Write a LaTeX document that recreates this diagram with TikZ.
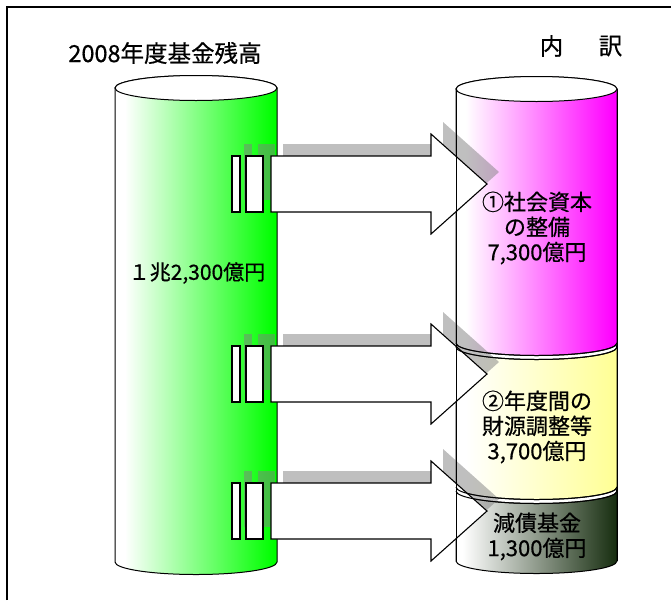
\documentclass[tikz,border=0pt]{standalone}
\usepackage{fontspec}
\newfontfamily\jp[FakeBold=0.6]{Noto Sans CJK JP}
\definecolor{cgreen}{RGB}{0,255,0}
\definecolor{cmag}{RGB}{255,0,255}
\definecolor{cyel}{RGB}{255,255,150}
\definecolor{cdark}{RGB}{22,45,15}
\definecolor{cshadow}{RGB}{128,128,128}
\pgfdeclarehorizontalshading{shgreen}{100bp}{color(0bp)=(white); color(28bp)=(white); color(74bp)=(cgreen); color(100bp)=(cgreen)}
\pgfdeclarehorizontalshading{shmag}{100bp}{color(0bp)=(white); color(28bp)=(white); color(74bp)=(cmag); color(100bp)=(cmag)}
\pgfdeclarehorizontalshading{shyel}{100bp}{color(0bp)=(white); color(28bp)=(white); color(74bp)=(cyel); color(100bp)=(cyel)}
\pgfdeclarehorizontalshading{shdark}{100bp}{color(0bp)=(white); color(27bp)=(white); color(75bp)=(cdark); color(100bp)=(cdark)}
\tikzset{
  outline/.style={draw=black, line width=1pt},
  shadowfill/.style={fill=cshadow, fill opacity=0.5, draw=none},
  boxfill/.style={fill=white, draw=black, line width=1.1pt},
  txt/.style={font=\jp\fontsize{22}{25}\selectfont, text=black, inner sep=0pt, align=center},
  titletxt/.style={font=\jp\fontsize{23.5}{26}\selectfont, text=black, inner sep=0pt},
  smalltxt/.style={font=\jp\fontsize{21}{24}\selectfont, text=black, inner sep=0pt},
}
\begin{document}
\begin{tikzpicture}[x=1pt,y=1pt]
\useasboundingbox (0,0) rectangle (671,-600);
% frame
\draw[line width=1.2pt] (7,-600) -- (7,-7) -- (671,-7);

% left cylinder
\path[shading=shgreen, outline] (115,-88) -- (115,-562)
  arc[start angle=180, end angle=360, x radius=81, y radius=12.5] -- (277,-88)
  arc[start angle=0, end angle=180, x radius=81, y radius=12.5] -- cycle;
\draw[outline, fill=white] (196,-88) ellipse [x radius=81, y radius=12.5];

% right cylinder: dark segment
\path[shading=shdark, outline] (456,-491) -- (456,-561)
  arc[start angle=180, end angle=360, x radius=80.5, y radius=12.5] -- (617,-491)
  arc[start angle=0, end angle=180, x radius=80.5, y radius=12.5] -- cycle;
\draw[outline, fill=white] (536.5,-491) ellipse [x radius=80.5, y radius=12.5];
% yellow segment
\path[shading=shyel, outline] (456,-347) -- (456,-487)
  arc[start angle=180, end angle=360, x radius=80.5, y radius=12.5] -- (617,-347)
  arc[start angle=0, end angle=180, x radius=80.5, y radius=12.5] -- cycle;
\draw[outline, fill=white] (536.5,-347) ellipse [x radius=80.5, y radius=12.5];
% magenta segment
\path[shading=shmag, outline] (456,-89) -- (456,-343)
  arc[start angle=180, end angle=360, x radius=80.5, y radius=12.5] -- (617,-89)
  arc[start angle=0, end angle=180, x radius=80.5, y radius=12.5] -- cycle;
\draw[outline, fill=white] (536.5,-89) ellipse [x radius=80.5, y radius=12.5];

% arrows with shadows
\foreach \c in {184,374,511} {
  \begin{scope}[shift={(0,-\c)}]
    \begin{scope}[shift={(12,12)}]
      \fill[shadowfill] (232,28) rectangle (240,-28);
      \fill[shadowfill] (246,28) rectangle (263,-28);
      \fill[shadowfill] (271,28) -- (431,28) -- (431,50) -- (487,0) -- (431,-50) -- (431,-28) -- (271,-28) -- cycle;
    \end{scope}
    \draw[boxfill] (232,28) rectangle (240,-28);
    \draw[boxfill] (246,28) rectangle (263,-28);
    \draw[boxfill, line join=miter] (271,28) -- (431,28) -- (431,50) -- (487,0) -- (431,-50) -- (431,-28) -- (271,-28) -- cycle;
  \end{scope}
}

% right cylinder outlines over the arrows
\draw[outline] (456,-89) -- (456,-561);
\draw[outline] (617,-89) -- (617,-561);
\draw[outline] (456,-343) arc[start angle=180, end angle=360, x radius=80.5, y radius=12.5];
\draw[outline] (456,-347) arc[start angle=180, end angle=360, x radius=80.5, y radius=12.5];
\draw[outline] (456,-487) arc[start angle=180, end angle=360, x radius=80.5, y radius=12.5];
\draw[outline] (456,-491) arc[start angle=180, end angle=360, x radius=80.5, y radius=12.5];

% texts
\node[titletxt] (title) at (165,-53) {2008年度基金残高};
\node[titletxt] (uchi) at (551.5,-46) {内};
\node[titletxt] (wake) at (610.5,-46) {訳};
\node[smalltxt] (total) at (197,-273) {１兆2,300億円};
\node[txt] (seg1) at (537,-228) {①社会資本\\の整備\\7,300億円};
\node[txt] (seg2) at (537,-427) {②年度間の\\財源調整等\\3,700億円};
\node[txt] (seg3) at (537,-536.5) {減債基金\\1,300億円};
\end{tikzpicture}
\end{document}
